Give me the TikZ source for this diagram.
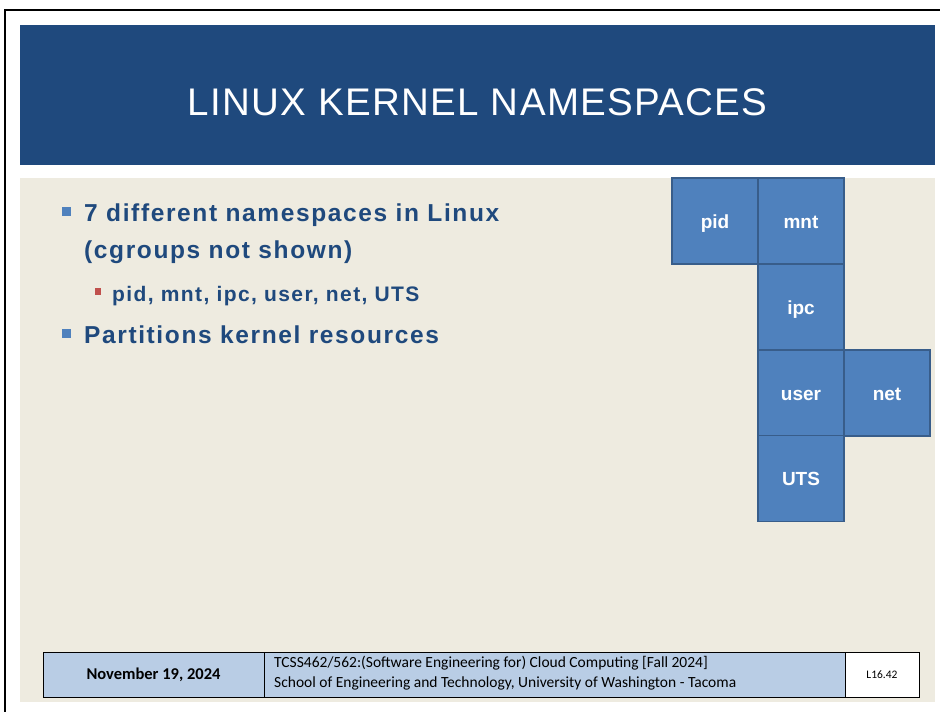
\documentclass[tikz,border=0pt]{standalone}
\usepackage{fontspec}
\setmainfont{Liberation Sans}
\newfontfamily\titlefont{Liberation Sans}[LetterSpace=3.5]
\newfontfamily\bodyfont{Liberation Sans}[LetterSpace=6.6]
\newfontfamily\footfont{Carlito}

\definecolor{titleblue}{HTML}{1F497D}
\definecolor{bodybg}{HTML}{EEEBE0}
\definecolor{textblue}{HTML}{1F497D}
\definecolor{bulletblue}{HTML}{4F81BD}
\definecolor{bulletred}{HTML}{C0504D}
\definecolor{boxfill}{HTML}{4F81BD}
\definecolor{boxline}{HTML}{385D8A}
\definecolor{footfill}{HTML}{B9CDE5}

\tikzset{
  nsbox/.style={draw=boxline, line width=1.2pt, fill=boxfill, inner sep=0pt,
    minimum width=86pt, minimum height=86pt, text=white,
    text height=14pt, text depth=0pt,
    font=\bfseries\fontsize{19}{22}\selectfont},
  mainline/.style={anchor=base west, inner sep=0pt, text=textblue,
    font=\bodyfont\bfseries\fontsize{24.5}{28}\selectfont},
  subline/.style={anchor=base west, inner sep=0pt, text=textblue,
    font=\bodyfont\bfseries\fontsize{21}{25}\selectfont},
  footcell/.style={draw=black, line width=0.8pt, inner sep=0pt, minimum height=45pt},
}

\begin{document}
\begin{tikzpicture}[x=1pt, y=-1pt]
\useasboundingbox (0,0) rectangle (940,712);
\fill[white] (0,0) rectangle (940,712);

% page frame
\draw[black, line width=2.5pt] (5,712) -- (5,10) -- (940,10);

% title band and body area
\fill[titleblue] (20,25) rectangle (935,165);
\fill[bodybg] (20,178) rectangle (935,702);
\node[anchor=base, inner sep=0pt, text=white, font=\titlefont\fontsize{38.5}{40}\selectfont]
  (title) at (477.5,115) {LINUX KERNEL NAMESPACES};

% bullet list
\fill[bulletblue] (61.5,206.5) rectangle (71,216);
\node[mainline] (l1) at (84,221) {7 different namespaces in Linux};
\node[mainline] (l2) at (84,258) {(cgroups not shown)};
\fill[bulletred] (94.5,288) rectangle (101,294.5);
\node[subline] (l3) at (112,301) {pid, mnt, ipc, user, net, UTS};
\fill[bulletblue] (61.5,328.5) rectangle (71,338);
\node[mainline] (l4) at (84,343) {Partitions kernel resources};

% namespace blocks
\node[nsbox] (pid)  at (715,221)   {pid};
\node[nsbox] (mnt)  at (801,221)   {mnt};
\node[nsbox] (ipc)  at (801,307)   {ipc};
\node[nsbox] (user) at (801,393)   {user};
\node[nsbox] (net)  at (887,393)   {net};
\node[nsbox] (uts)  at (801,478.5) {UTS};

% footer table
\node[footcell, fill=footfill, minimum width=221pt] (date) at (153.5,674.5)
  {\footfont\bfseries\fontsize{16.5}{18}\selectfont November 19, 2024};
\node[footcell, fill=footfill, minimum width=581pt] (course) at (554.5,674.5) {};
\node[anchor=west, inner sep=0pt, align=left, font=\footfont\fontsize{15.5}{20}\selectfont]
  (coursetext) at (274,673.5)
  {TCSS462/562:(Software Engineering for) Cloud Computing [Fall 2024]\\
   School of Engineering and Technology, University of Washington - Tacoma};
\node[footcell, fill=white, minimum width=74pt] (slide) at (882,674.5)
  {\footfont\fontsize{11.5}{14}\selectfont L16.42};
\end{tikzpicture}
\end{document}
